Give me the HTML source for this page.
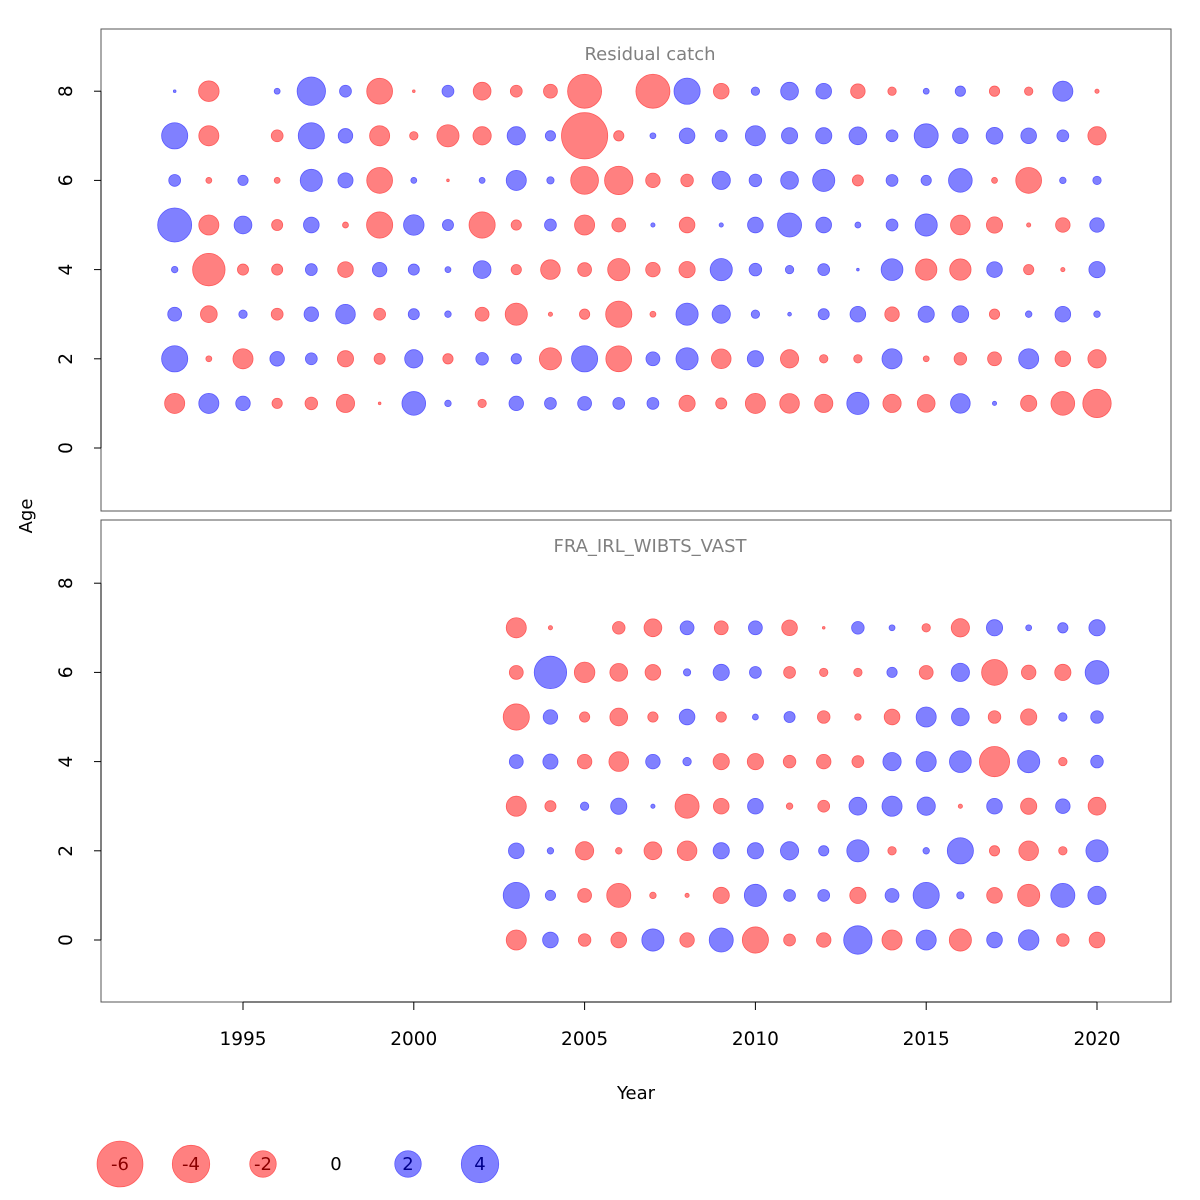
<!DOCTYPE html>
<html><head><meta charset="utf-8"><style>
html,body{margin:0;padding:0;background:#fff}
svg{display:block;font-family:"DejaVu Sans","Liberation Sans",sans-serif}
</style></head><body>
<svg id="chart" width="1200" height="1200" viewBox="0 0 1200 1200">
<rect x="101" y="29" width="1070" height="482" fill="none" stroke="#555" stroke-width="1"/>
<rect x="101" y="520" width="1070" height="482" fill="none" stroke="#555" stroke-width="1"/>
<text x="650" y="60" text-anchor="middle" font-size="18" fill="#808080">Residual catch</text>
<text x="650" y="552" text-anchor="middle" font-size="18" fill="#808080">FRA_IRL_WIBTS_VAST</text>
<text x="636" y="1099" text-anchor="middle" font-size="18" fill="#000">Year</text>
<text x="32" y="516" text-anchor="middle" font-size="18" fill="#000" transform="rotate(-90 32 516)">Age</text>
<g id="marks"></g>
<g id="axes"></g>
<g id="legend"></g>
</svg>
<script>
const topYears = [1993,1994,1995,1996,1997,1998,1999,2000,2001,2002,2003,2004,2005,2006,2007,2008,2009,2010,2011,2012,2013,2014,2015,2016,2017,2018,2019,2020];
const topAges = [1,2,3,4,5,6,7,8];
const topAge1 = [-1.15,1.15,0.6,-0.3,-0.45,-0.95,-0.02,1.6,0.12,-0.2,0.6,0.4,0.55,0.4,0.4,-0.75,-0.35,-1.15,-1.1,-0.95,1.4,-0.95,-0.9,1.1,0.05,-0.75,-1.6,-2.3];
const topAge2 = [1.95,-0.1,-1.15,0.6,0.4,-0.75,-0.35,0.95,-0.3,0.45,0.3,-1.4,1.95,-1.9,0.55,1.4,-1.1,0.75,-0.95,-0.2,-0.2,1.15,-0.1,-0.45,-0.55,1.15,-0.7,-0.95];
const topAge3 = [0.55,-0.8,0.2,-0.4,0.6,1.1,-0.4,0.35,0.12,-0.55,-1.4,-0.05,-0.3,-1.95,-0.1,1.4,0.95,0.2,0.04,0.35,0.7,-0.6,0.75,0.8,-0.3,0.12,0.7,0.12];
const topAge4 = [0.12,-3.0,-0.35,-0.35,0.4,-0.7,0.6,0.35,0.1,0.9,-0.3,-1.1,-0.55,-1.4,-0.6,-0.75,1.4,0.45,0.2,0.4,0.02,1.35,-1.3,-1.3,0.7,-0.3,-0.05,0.75];
const topAge5 = [3.3,-1.15,0.9,-0.35,0.7,-0.1,-1.95,1.2,0.35,-1.95,-0.3,0.4,-1.15,-0.55,0.05,-0.7,0.05,0.7,1.65,0.7,0.1,0.4,1.4,-1.1,-0.75,-0.05,-0.6,0.6];
const topAge6 = [0.4,-0.1,0.3,-0.1,1.4,0.65,-1.9,0.1,-0.02,0.1,1.15,0.15,-2.2,-2.3,-0.6,-0.45,0.95,0.45,0.9,1.4,-0.35,0.4,0.3,1.6,-0.1,-1.9,0.12,0.2];
const topAge7 = [1.95,-1.15,0,-0.4,1.95,0.6,-1.15,-0.2,-1.4,-0.95,0.95,0.3,-6.1,-0.3,0.1,0.7,0.4,1.15,0.75,0.75,0.9,0.4,1.65,0.7,0.8,0.7,0.4,-0.95];
const topAge8 = [0.02,-1.2,0,0.1,2.3,0.4,-1.9,-0.02,0.4,-0.9,-0.4,-0.55,-3.3,0,-3.3,1.95,-0.7,0.2,0.9,0.7,-0.6,-0.2,0.1,0.3,-0.3,-0.2,1.15,-0.05];
const topValues = [topAge1,topAge2,topAge3,topAge4,topAge5,topAge6,topAge7,topAge8];

const botYears = [2003,2004,2005,2006,2007,2008,2009,2010,2011,2012,2013,2014,2015,2016,2017,2018,2019,2020];
const botAges = [0,1,2,3,4,5,6,7];
const botAge0 = [-1.15,0.7,-0.45,-0.7,1.4,-0.6,1.65,-1.95,-0.4,-0.6,2.3,-1.15,1.15,-1.4,0.7,1.2,-0.45,-0.7];
const botAge1 = [1.95,0.3,-0.55,-1.65,-0.12,-0.05,-0.75,1.4,0.4,0.4,-0.75,0.55,1.95,0.15,-0.7,-1.4,1.65,0.95];
const botAge2 = [0.7,0.12,-0.95,-0.12,-0.9,-1.1,0.75,0.75,0.95,0.3,1.4,-0.2,0.12,1.95,-0.3,-1.1,-0.2,1.4];
const botAge3 = [-1.15,-0.35,0.2,0.75,0.05,-1.65,-0.7,0.7,-0.12,-0.4,0.9,1.15,0.95,-0.05,0.7,-0.75,0.6,-0.9];
const botAge4 = [0.55,0.65,-0.6,-1.1,0.6,0.2,-0.75,-0.75,-0.45,-0.6,-0.4,0.95,1.15,1.35,-2.6,1.4,-0.2,0.45];
const botAge5 = [-1.95,0.6,-0.3,-0.9,-0.3,0.7,-0.3,0.1,0.35,-0.45,-0.12,-0.7,1.15,0.9,-0.45,-0.75,0.2,0.45];
const botAge6 = [-0.55,3.0,-1.2,-0.9,-0.7,0.15,0.75,0.4,-0.4,-0.2,-0.2,0.3,-0.55,0.95,-1.9,-0.6,-0.75,1.6];
const botAge7 = [-1.15,-0.05,0,-0.45,-0.9,0.55,-0.55,0.55,-0.7,-0.02,0.45,0.1,-0.2,-0.95,0.75,0.1,0.3,0.75];
const botValues = [botAge0,botAge1,botAge2,botAge3,botAge4,botAge5,botAge6,botAge7];

const xTicks = [1995,2000,2005,2010,2015,2020];
const yTicks = [0,2,4,6,8];
const legendValues = [-6,-4,-2,0,2,4];

const NS = 'http://www.w3.org/2000/svg';
const K = 9.35;
function xScale(yr){ return 243 + (yr-1995)*34.16; }
function yTop(a){ return 448 - a*44.6; }
function yBot(a){ return 940 - a*44.6; }
function rScale(v){ return K*Math.sqrt(Math.abs(v)); }
function fillOf(v){ return v<0 ? '#ff8080' : '#8080ff'; }
function strokeOf(v){ return v<0 ? '#ff5a5a' : '#5a5aff'; }

const marks = document.getElementById('marks');
function drawPanel(years, ages, values, yf, panel){
  ages.forEach((a,i)=>{
    years.forEach((yr,j)=>{
      const v = values[i][j];
      if(v===0) return;
      const c = document.createElementNS(NS,'circle');
      c.setAttribute('cx', xScale(yr));
      c.setAttribute('cy', yf(a));
      c.setAttribute('r', rScale(v));
      c.setAttribute('fill', fillOf(v));
      c.setAttribute('stroke', strokeOf(v));
      c.setAttribute('stroke-width', '0.8');
      
      
      marks.appendChild(c);
    });
  });
}
drawPanel(topYears, topAges, topValues, yTop, 'catch');
drawPanel(botYears, botAges, botValues, yBot, 'survey');

const axes = document.getElementById('axes');
function line(x1,y1,x2,y2,name){
  const l = document.createElementNS(NS,'line');
  l.setAttribute('x1',x1);l.setAttribute('y1',y1);l.setAttribute('x2',x2);l.setAttribute('y2',y2);
  l.setAttribute('stroke','#000');l.setAttribute('stroke-width','1');
  
  
  axes.appendChild(l);
}
function text(x,y,s,rot,name){
  const t = document.createElementNS(NS,'text');
  t.setAttribute('x',x);t.setAttribute('y',y);
  t.setAttribute('text-anchor','middle');t.setAttribute('font-size','18.5');
  if(rot) t.setAttribute('transform','rotate(-90 '+x+' '+y+')');
  t.textContent = s;
  
  
  axes.appendChild(t);
}
line(xScale(xTicks[0]),1002,xScale(xTicks[xTicks.length-1]),1002,'x-axis-line');
xTicks.forEach(t=>{
  line(xScale(t),1002,xScale(t),1010,'x-tick-'+t);
  text(xScale(t),1045,String(t),false,'x-tick-label-'+t);
});
[[yTop,'top'],[yBot,'bottom']].forEach(([yf,p])=>{
  line(101,yf(yTicks[0]),101,yf(yTicks[yTicks.length-1]),p+'-y-axis-line');
  yTicks.forEach(t=>{
    line(94,yf(t),101,yf(t),p+'-y-tick-'+t);
    text(72,yf(t),String(t),true,p+'-y-tick-label-'+t);
  });
});

const legend = document.getElementById('legend');
const legendX = [120,191,263,336,408,480];
legendValues.forEach((v,i)=>{
  if(v!==0){
    const c = document.createElementNS(NS,'circle');
    c.setAttribute('cx',legendX[i]);c.setAttribute('cy',1164);
    c.setAttribute('r',rScale(v));
    c.setAttribute('fill',fillOf(v));c.setAttribute('stroke',strokeOf(v));c.setAttribute('stroke-width','0.8');
    
    
    legend.appendChild(c);
  }
  const t = document.createElementNS(NS,'text');
  t.setAttribute('x',legendX[i]);t.setAttribute('y',1170);
  t.setAttribute('text-anchor','middle');t.setAttribute('font-size','18');
  t.setAttribute('fill', v<0 ? '#8b0000' : (v>0 ? '#00008b' : '#000'));
  t.textContent = String(v);
  
  
  legend.appendChild(t);
});
</script>
</body></html>
